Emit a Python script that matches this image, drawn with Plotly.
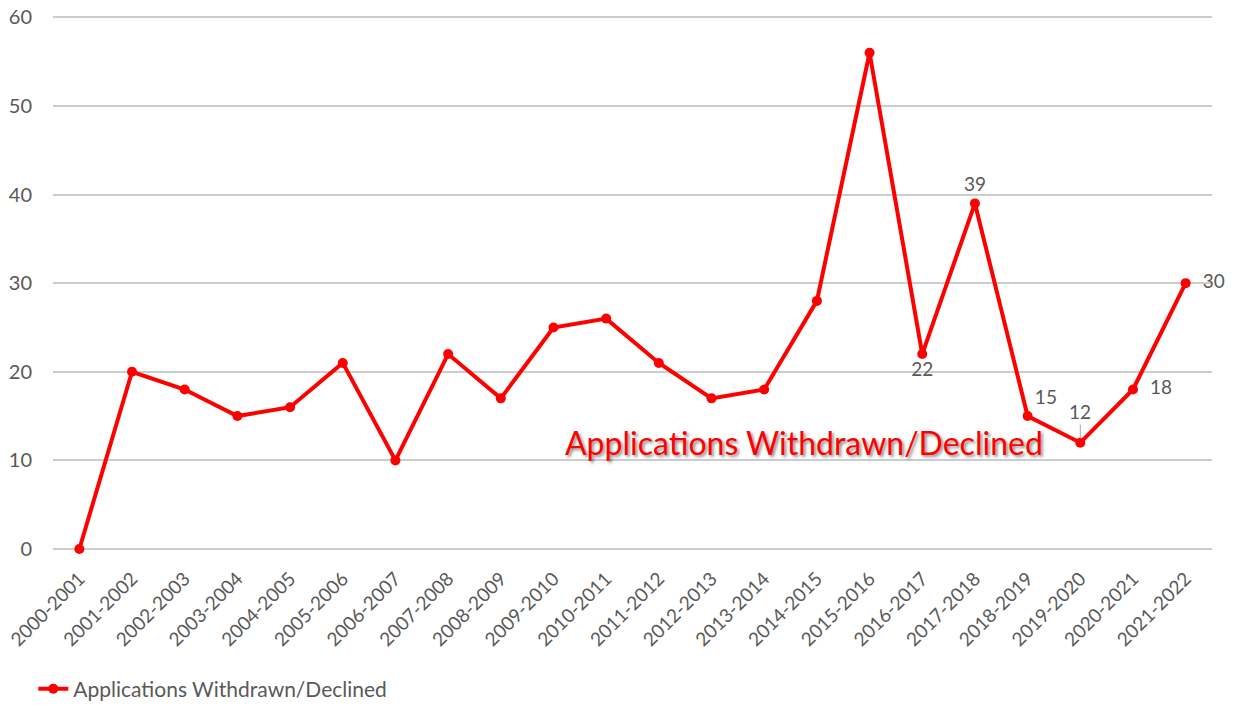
import plotly.graph_objects as go

categories = ["2000-2001", "2001-2002", "2002-2003", "2003-2004", "2004-2005", "2005-2006",
              "2006-2007", "2007-2008", "2008-2009", "2009-2010", "2010-2011", "2011-2012",
              "2012-2013", "2013-2014", "2014-2015", "2015-2016", "2016-2017", "2017-2018",
              "2018-2019", "2019-2020", "2020-2021", "2021-2022"]
values = [0, 20, 18, 15, 16, 21, 10, 22, 17, 25, 26, 21, 17, 18, 28, 56, 22, 39, 15, 12, 18, 30]
labelled = {"2016-2017": "bottom center", "2017-2018": "top center", "2018-2019": "top right",
            "2020-2021": "middle right", "2021-2022": "middle right"}
leader_label = "2019-2020"
series_name = "Applications Withdrawn/Declined"
yticks = [0, 10, 20, 30, 40, 50, 60]

NB = "\u00a0"
texts = []
for c, v in zip(categories, values):
    if c in labelled:
        pad = NB * 2 if labelled[c] == "middle right" else ""
        texts.append(pad + str(v))
    else:
        texts.append("")
positions = [labelled.get(c, "top center") for c in categories]

FONT = "Lato, 'Open Sans', sans-serif"
GRAY = "#595959"

fig = go.Figure()
fig.add_trace(go.Scatter(
    x=categories, y=values, name=series_name,
    mode="lines+markers+text",
    line=dict(color="#ff0000", width=4),
    marker=dict(color="#ff0000", size=10),
    text=texts, textposition=positions,
    textfont=dict(family=FONT, size=19, color=GRAY),
    cliponaxis=False,
))

li = categories.index(leader_label)
fig.add_annotation(x=leader_label, y=values[li], xref="x", yref="y", text=str(values[li]),
                   showarrow=True, arrowhead=0, arrowwidth=1, arrowcolor="#a6a6a6",
                   ax=0, ay=-31, standoff=4,
                   font=dict(family=FONT, size=19, color=GRAY))
fig.add_annotation(x=0.648, y=12, xref="paper", yref="y", text=series_name, showarrow=False,
                   font=dict(family=FONT, size=32, color="#ff0000",
                             shadow="2px 2px 3px rgba(0,0,0,0.45)"))

fig.update_layout(
    width=1237, height=705,
    margin=dict(l=45, r=33, t=8, b=164),
    paper_bgcolor="white", plot_bgcolor="white",
    font=dict(family=FONT, size=19, color=GRAY),
    showlegend=True,
    legend=dict(x=-0.017, y=0.034, xanchor="left", yanchor="middle", yref="container",
                font=dict(family=FONT, size=21, color=GRAY), bgcolor="rgba(0,0,0,0)"),
    xaxis=dict(type="category", range=[-0.5, len(categories) - 0.5], tickangle=-45,
               showgrid=False, showline=False, automargin=False, ticklabelstandoff=14,
               ticklabeloverflow="allow",
               ticks="", tickfont=dict(family=FONT, size=19, color=GRAY)),
    yaxis=dict(range=[0, 60.15], tickvals=yticks, showgrid=True, gridcolor="#cccccc",
               gridwidth=1.5, zeroline=True, zerolinecolor="#cccccc", zerolinewidth=1.5,
               showline=False, ticks="", ticklabelstandoff=20, automargin=False,
               ticklabeloverflow="allow",
               tickfont=dict(family=FONT, size=20, color=GRAY)),
)

fig.write_html("out.html")
